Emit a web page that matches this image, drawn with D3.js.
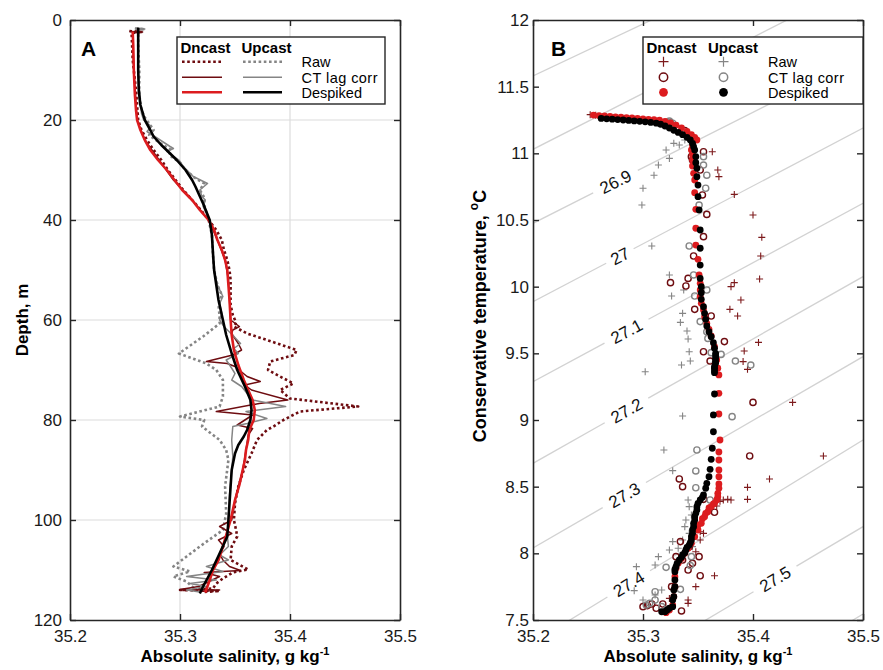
<!DOCTYPE html>
<html>
<head>
<meta charset="utf-8">
<script src="https://cdn.jsdelivr.net/npm/d3@7"></script>
<style>
  body { margin: 0; background: #fff; }
  svg { display: block; font-family: "Liberation Sans", Arial, Helvetica, sans-serif; }
</style>
</head>
<body>
<svg id="chart" width="883" height="670"></svg>
<script>
// ---------- Tick values ----------
const depthTicks = [0, 20, 40, 60, 80, 100, 120];
const salTicks = [35.2, 35.3, 35.4, 35.5];
const tempTicks = [7.5, 8, 8.5, 9, 9.5, 10, 10.5, 11, 11.5, 12];

// ---------- Panel A: salinity profiles, [depth m, SA g/kg] ----------
const dnRawA = [[2.2,35.254],[2.4,35.266],[2.6,35.256],[8,35.257],[14,35.260],[20,35.262],[22,35.265],[24,35.270],[26,35.276],[28,35.283],[30,35.289],[32,35.296],[34,35.303],[36,35.311],[38,35.319],[40,35.326],[42,35.333],[44,35.338],[46,35.340],[48,35.343],[50,35.345],[52,35.346],[55,35.346],[57,35.346],[59,35.348],[60.5,35.351],[61.3,35.349],[62,35.355],[62.7,35.361],[64,35.379],[66,35.406],[67,35.404],[68.3,35.382],[70,35.380],[71.3,35.391],[72.7,35.403],[74,35.391],[75.7,35.400],[77.3,35.462],[78.3,35.409],[80,35.394],[81.3,35.385],[82,35.379],[84,35.370],[86.7,35.365],[90,35.358],[93.3,35.353],[96.7,35.350],[100,35.349],[102,35.351],[103.3,35.352],[105.3,35.347],[108,35.346],[109.9,35.362],[110.5,35.348],[111.7,35.339],[112.7,35.333],[113.7,35.330],[114,35.300],[114.2,35.336],[114.4,35.321]];

const upRawA = [[1.7,35.259],[1.8,35.268],[2,35.262],[5,35.262],[10,35.263],[15,35.263],[18,35.265],[19.5,35.268],[20.7,35.272],[22,35.276],[23,35.272],[24.5,35.281],[26,35.292],[27,35.290],[28.5,35.300],[30,35.305],[31.5,35.313],[32.7,35.322],[34,35.318],[35.5,35.322],[37,35.322],[40,35.326],[43,35.329],[47,35.330],[50,35.331],[53,35.334],[55,35.338],[57,35.335],[59.3,35.336],[60.7,35.336],[63.3,35.321],[66.7,35.299],[68.7,35.324],[70,35.333],[72,35.339],[75.3,35.339],[77.3,35.336],[79.3,35.300],[80,35.322],[81.3,35.320],[84,35.336],[86,35.342],[88,35.344],[93.3,35.341],[98.7,35.342],[102,35.339],[105.3,35.318],[107.3,35.306],[109.3,35.294],[110.3,35.309],[111.3,35.294],[112.3,35.306],[113.3,35.311],[114,35.314]];

const dnLagA = [[2.3,35.254],[2.4,35.266],[2.6,35.257],[10,35.258],[20,35.261],[24,35.268],[28,35.281],[32,35.294],[36,35.311],[40,35.326],[44,35.334],[48,35.341],[52,35.344],[56,35.345],[60,35.346],[61.3,35.354],[62,35.348],[62.7,35.347],[64.7,35.353],[66,35.356],[67,35.348],[68.3,35.324],[68.7,35.343],[69.3,35.350],[71.3,35.361],[72.3,35.373],[73,35.359],[74,35.365],[76,35.398],[76.7,35.372],[78.3,35.333],[79,35.366],[81,35.352],[81.7,35.366],[83,35.362],[86,35.360],[90,35.357],[95,35.351],[100,35.347],[101.3,35.336],[102.7,35.347],[104,35.335],[105.3,35.340],[106.7,35.336],[108,35.339],[109.3,35.345],[110.1,35.355],[110.5,35.322],[111.3,35.336],[113.3,35.317],[113.9,35.300],[114,35.336],[114.3,35.318]];

const upLagA = [[1.7,35.259],[1.8,35.268],[2,35.262],[10,35.262],[17,35.264],[18.7,35.265],[20,35.267],[21.3,35.274],[22.3,35.270],[23.3,35.277],[25.3,35.291],[25.7,35.294],[26.3,35.288],[28,35.299],[29.3,35.303],[31.3,35.312],[32.7,35.325],[34,35.318],[35.3,35.320],[36,35.323],[37.3,35.321],[40,35.327],[43,35.329],[47,35.330],[50,35.331],[53,35.334],[55.3,35.339],[56.7,35.336],[58.7,35.338],[60,35.336],[61.3,35.340],[63.3,35.349],[64.7,35.355],[65.7,35.349],[66.7,35.353],[68,35.342],[69.3,35.346],[70.7,35.350],[72,35.347],[73.3,35.356],[74.7,35.361],[76,35.366],[77.3,35.396],[78.3,35.360],[79.7,35.379],[80.7,35.361],[81.3,35.348],[84,35.347],[87.3,35.348],[90,35.347],[95,35.345],[100,35.344],[103,35.343],[105.3,35.344],[107,35.336],[108,35.344],[109.3,35.324],[110.3,35.339],[111.3,35.306],[112,35.333],[112.7,35.309],[113.3,35.324],[114,35.306],[114.4,35.318]];

const dnDesA = [[2.3,35.257],[5,35.2575],[10,35.258],[15,35.259],[18,35.260],[20,35.261],[22,35.264],[24,35.268],[26,35.273],[28,35.280],[30,35.288],[32,35.295],[34,35.302],[36,35.311],[38,35.318],[40,35.326],[42,35.331],[44,35.334],[46,35.338],[48,35.341],[50,35.343],[53,35.344],[56,35.345],[60,35.346],[63,35.347],[66,35.349],[69,35.353],[72,35.358],[74,35.362],[76,35.366],[78,35.368],[80,35.367],[82,35.363],[84,35.362],[86,35.360],[88,35.359],[90,35.357],[93,35.354],[96,35.350],[100,35.346],[103,35.342],[106,35.338],[108,35.335],[110,35.330],[112,35.327],[114.5,35.323]];

const upDesA = [[1.5,35.262],[5,35.262],[10,35.262],[14,35.2625],[17,35.264],[20,35.268],[22,35.273],[23.3,35.276],[25,35.283],[26.7,35.291],[28,35.297],[30,35.305],[32,35.311],[33.3,35.314],[36.7,35.321],[40,35.327],[43,35.329],[46.7,35.330],[50,35.331],[53,35.333],[56,35.335],[60,35.339],[63,35.342],[66.7,35.347],[70,35.352],[73.3,35.359],[76,35.364],[78,35.365],[80,35.364],[82,35.361],[83.3,35.358],[85,35.353],[86.7,35.350],[90,35.347],[93.3,35.346],[96.7,35.345],[100,35.344],[103.3,35.343],[106.7,35.336],[110,35.329],[113.3,35.321],[114.7,35.318]];

// ---------- Panel B: T-S points, [SA g/kg, CT degC] ----------
const dnRawB = [[35.252,11.29],[35.257,11.285],[35.363,11.012],[35.368,10.875],[35.369,10.825],[35.383,10.692],[35.4,10.538],[35.408,10.37],[35.407,10.23],[35.406,10.058],[35.383,10.03],[35.38,10.0],[35.389,9.9],[35.379,9.83],[35.386,9.78],[35.405,9.582],[35.392,9.518],[35.391,9.438],[35.395,9.38],[35.436,9.132],[35.464,8.73],[35.415,8.558],[35.395,8.495],[35.395,8.405],[35.373,8.4],[35.377,8.405],[35.38,8.4],[35.37,8.39],[35.367,8.355],[35.352,8.162],[35.355,8.15],[35.352,8.1],[35.348,8.012],[35.365,7.832],[35.348,7.75],[35.341,7.65],[35.341,7.625],[35.324,7.662]];

const upRawB = [[35.338,11.1],[35.333,11.062],[35.328,11.075],[35.321,11.025],[35.324,10.962],[35.314,10.912],[35.31,10.836],[35.3,10.738],[35.299,10.612],[35.308,10.305],[35.324,10.088],[35.326,9.93],[35.337,9.975],[35.336,9.8],[35.334,9.732],[35.34,9.668],[35.341,9.608],[35.342,9.512],[35.343,9.442],[35.335,9.412],[35.302,9.362],[35.336,9.03],[35.319,8.775],[35.327,8.62],[35.341,8.4],[35.342,8.35],[35.344,8.288],[35.339,8.25],[35.338,8.2],[35.342,8.15],[35.336,8.1],[35.327,8.088],[35.332,8.038],[35.324,8.025],[35.345,8.05],[35.314,7.975],[35.311,7.912],[35.294,7.9],[35.292,7.72],[35.317,7.725],[35.3,7.65],[35.311,7.688]];

const dnLagB = [[35.338,11.17],[35.346,11.11],[35.355,11.012],[35.344,10.975],[35.345,10.95],[35.352,10.875],[35.354,10.688],[35.358,10.542],[35.355,10.375],[35.346,10.23],[35.341,10.062],[35.325,10.03],[35.339,10.005],[35.347,9.83],[35.362,9.78],[35.374,9.588],[35.355,9.512],[35.361,9.442],[35.4,9.132],[35.397,8.73],[35.333,8.558],[35.336,8.5],[35.355,8.405],[35.365,8.308],[35.334,8.088],[35.342,8.05],[35.351,7.975],[35.336,7.95],[35.33,7.975],[35.345,7.925],[35.341,7.875],[35.352,7.832],[35.326,7.75],[35.335,7.568],[35.3,7.6],[35.304,7.608],[35.308,7.62],[35.318,7.62],[35.312,7.588]];

const upLagB = [[35.322,11.235],[35.325,11.232],[35.324,11.242],[35.327,11.226],[35.355,10.975],[35.355,10.912],[35.358,10.836],[35.357,10.738],[35.351,10.612],[35.342,10.305],[35.346,10.088],[35.358,9.975],[35.347,9.93],[35.352,9.738],[35.358,9.662],[35.359,9.612],[35.362,9.505],[35.371,9.492],[35.384,9.442],[35.398,9.412],[35.381,9.025],[35.349,8.775],[35.348,8.618],[35.348,8.492],[35.361,8.4],[35.344,7.975],[35.321,7.895],[35.343,7.908],[35.334,7.73],[35.311,7.712],[35.311,7.65],[35.303,7.612],[35.317,7.6],[35.321,7.575],[35.306,7.625]];

const dnDesB = [[35.255,11.287],[35.26,11.283],[35.265,11.28],[35.27,11.277],[35.275,11.274],[35.28,11.271],[35.285,11.268],[35.29,11.265],[35.295,11.262],[35.3,11.258],[35.305,11.255],[35.31,11.252],[35.315,11.248],[35.32,11.24],[35.325,11.228],[35.33,11.212],[35.335,11.19],[35.34,11.165],[35.344,11.14],[35.347,11.12],[35.349,11.1],[35.345,11.06],[35.344,11.025],[35.345,10.99],[35.345,10.95],[35.345,10.905],[35.346,10.85],[35.347,10.8],[35.347,10.705],[35.348,10.58],[35.348,10.438],[35.348,10.312],[35.35,10.205],[35.351,10.088],[35.352,10.025],[35.352,9.975],[35.352,9.925],[35.353,9.875],[35.355,9.825],[35.356,9.775],[35.358,9.725],[35.36,9.68],[35.362,9.63],[35.365,9.55],[35.367,9.45],[35.368,9.388],[35.369,9.338],[35.369,9.2],[35.369,9.045],[35.37,8.85],[35.369,8.76],[35.369,8.7],[35.369,8.625],[35.369,8.575],[35.369,8.52],[35.369,8.488],[35.368,8.45],[35.368,8.425],[35.367,8.4],[35.365,8.375],[35.364,8.37],[35.362,8.35],[35.36,8.34],[35.359,8.312],[35.357,8.3],[35.356,8.275],[35.354,8.26],[35.353,8.225],[35.35,8.21],[35.35,8.175],[35.347,8.125],[35.344,8.075],[35.341,8.038],[35.338,8.0],[35.335,7.962],[35.332,7.925],[35.33,7.888],[35.329,7.825],[35.329,7.75],[35.328,7.675],[35.327,7.612],[35.324,7.575],[35.321,7.555]];

const upDesB = [[35.262,11.262],[35.267,11.259],[35.272,11.256],[35.277,11.253],[35.282,11.25],[35.287,11.247],[35.292,11.243],[35.297,11.24],[35.302,11.236],[35.307,11.232],[35.312,11.226],[35.316,11.218],[35.32,11.205],[35.324,11.19],[35.328,11.173],[35.332,11.157],[35.336,11.14],[35.34,11.12],[35.343,11.1],[35.345,11.075],[35.346,11.05],[35.347,11.025],[35.348,10.975],[35.348,10.93],[35.349,10.888],[35.349,10.825],[35.35,10.762],[35.35,10.675],[35.351,10.575],[35.352,10.425],[35.352,10.288],[35.352,10.162],[35.352,10.062],[35.353,10.0],[35.353,9.955],[35.353,9.905],[35.355,9.85],[35.356,9.8],[35.357,9.755],[35.358,9.705],[35.36,9.662],[35.362,9.625],[35.364,9.58],[35.365,9.538],[35.366,9.5],[35.366,9.48],[35.366,9.462],[35.366,9.44],[35.366,9.425],[35.365,9.4],[35.365,9.388],[35.365,9.37],[35.365,9.355],[35.365,9.195],[35.364,9.038],[35.364,8.912],[35.363,8.788],[35.362,8.705],[35.361,8.63],[35.36,8.575],[35.358,8.525],[35.357,8.488],[35.355,8.438],[35.354,8.42],[35.352,8.4],[35.35,8.375],[35.349,8.35],[35.349,8.325],[35.348,8.3],[35.347,8.275],[35.347,8.25],[35.346,8.225],[35.346,8.2],[35.345,8.175],[35.345,8.15],[35.344,8.125],[35.344,8.1],[35.343,8.08],[35.342,8.062],[35.34,8.045],[35.339,8.025],[35.338,8.005],[35.336,7.988],[35.335,7.97],[35.333,7.95],[35.331,7.925],[35.33,7.9],[35.329,7.88],[35.329,7.862],[35.329,7.8],[35.329,7.75],[35.328,7.725],[35.328,7.675],[35.327,7.65],[35.327,7.6],[35.324,7.588],[35.322,7.575],[35.32,7.562],[35.317,7.562]];

// ---------- Isopycnals (sigma0): CT where each line meets SA = 35.2 and SA = 35.5 ----------
const isoLevels = ["26.7", "26.8", "26.9", "27", "27.1", "27.2", "27.3", "27.4", "27.5", "27.6"];
const isoCTatLeft = [11.58, 11.03, 10.475, 9.887, 9.287, 8.675, 8.04, 7.33, 6.73, 6.04];
const isoCTatRight = [12.75, 12.29, 11.725, 11.19, 10.625, 10.075, 9.475, 8.85, 8.20, 7.545];
const isoLabelSA = [null, null, 35.275, 35.279, 35.285, 35.285, 35.283, 35.287, 35.42, null];

// ---------- Styles ----------
const C = {
  axis: "#262626", grid: "#dcdcdc", iso: "#d2d2d2",
  dnDark: "#6e0c10", dnRed: "#dc1c1f", upGray: "#858585", upBlack: "#000000"
};

const svg = d3.select("#chart");

const xA = d3.scaleLinear().domain([35.2, 35.5]).range([70, 400]);
const yA = d3.scaleLinear().domain([0, 120]).range([20, 620]);
const xB = d3.scaleLinear().domain([35.2, 35.5]).range([533, 863]);
const yB = d3.scaleLinear().domain([7.5, 12]).range([620, 20]);

function styleAxis(g) {
  g.selectAll("path.domain").attr("stroke", C.axis).attr("stroke-width", 1.6);
  g.selectAll(".tick line").attr("stroke", C.axis).attr("stroke-width", 1.4);
  g.selectAll(".tick text").attr("fill", "#1a1a1a").attr("font-size", 17)
    .attr("font-family", '"Liberation Sans", Arial, sans-serif');
}

function drawFrame(x, y, xTicks, yTicks, yPad) {
  const [xl, xr] = x.range();
  const yt = Math.min(...y.range()), yb = Math.max(...y.range());
  const g = svg.append("g");
  g.append("g").attr("transform", `translate(0,${yb})`)
    .call(d3.axisBottom(x).tickValues(xTicks).tickSize(-6).tickSizeOuter(0).tickPadding(10).tickFormat(d => String(d)))
    .call(styleAxis);
  g.append("g").attr("transform", `translate(0,${yt})`)
    .call(d3.axisTop(x).tickValues(xTicks).tickSize(-6).tickSizeOuter(0).tickFormat(""))
    .call(styleAxis);
  g.append("g").attr("transform", `translate(${xl},0)`)
    .call(d3.axisLeft(y).tickValues(yTicks).tickSize(-6).tickSizeOuter(0).tickPadding(yPad).tickFormat(d => String(d)))
    .call(styleAxis);
  g.append("g").attr("transform", `translate(${xr},0)`)
    .call(d3.axisRight(y).tickValues(yTicks).tickSize(-6).tickSizeOuter(0).tickFormat(""))
    .call(styleAxis);
  return g;
}

// ================= Panel A =================
const gridA = svg.append("g");
gridA.selectAll("line.v").data(salTicks.slice(1, -1)).join("line")
  .attr("x1", d => xA(d)).attr("x2", d => xA(d)).attr("y1", 20).attr("y2", 620)
  .attr("stroke", C.grid).attr("stroke-width", 1.2);
gridA.selectAll("line.h").data(depthTicks.slice(1, -1)).join("line")
  .attr("x1", 70).attr("x2", 400).attr("y1", d => yA(d)).attr("y2", d => yA(d))
  .attr("stroke", C.grid).attr("stroke-width", 1.2);

const profile = d3.line().x(d => xA(d[1])).y(d => yA(d[0]));
const seriesA = [
  { data: dnRawA, color: C.dnDark, width: 2.6, dash: "2.6,2.6" },
  { data: upRawA, color: C.upGray, width: 2.6, dash: "2.6,2.6" },
  { data: dnLagA, color: C.dnDark, width: 1.5, dash: null },
  { data: upLagA, color: C.upGray, width: 1.5, dash: null },
  { data: dnDesA, color: C.dnRed, width: 2.6, dash: null },
  { data: upDesA, color: C.upBlack, width: 2.6, dash: null }
];
const linesA = svg.append("g");
seriesA.forEach(s => {
  linesA.append("path").datum(s.data).attr("d", profile)
    .attr("fill", "none").attr("stroke", s.color).attr("stroke-width", s.width)
    .attr("stroke-linejoin", "round")
    .attr("stroke-dasharray", s.dash);
});

drawFrame(xA, yA, salTicks, depthTicks, 8);

svg.append("text").attr("x", 81).attr("y", 56).attr("font-size", 21).attr("font-weight", "bold").text("A");

// Legend rows shared by both panels
const legRowsY = [61.7, 77.3, 92.3];
const legNames = ["Raw", "CT lag corr", "Despiked"];
const legFont = 14.5;

// Legend A
const legA = svg.append("g");
legA.append("rect").attr("x", 177).attr("y", 37).attr("width", 208).attr("height", 67)
  .attr("fill", "#fff").attr("stroke", C.axis).attr("stroke-width", 1.4);
legA.append("text").attr("x", 180.5).attr("y", 52.5).attr("font-size", 15).attr("font-weight", "bold").text("Dncast");
legA.append("text").attr("x", 241.5).attr("y", 52.5).attr("font-size", 15).attr("font-weight", "bold").text("Upcast");
legNames.forEach((n, i) => {
  const ds = seriesA[2 * i], us = seriesA[2 * i + 1];
  legA.append("line").attr("x1", 182).attr("x2", 222).attr("y1", legRowsY[i]).attr("y2", legRowsY[i])
    .attr("stroke", ds.color).attr("stroke-width", ds.width).attr("stroke-dasharray", ds.dash);
  legA.append("line").attr("x1", 243).attr("x2", 282).attr("y1", legRowsY[i]).attr("y2", legRowsY[i])
    .attr("stroke", us.color).attr("stroke-width", us.width).attr("stroke-dasharray", us.dash);
  legA.append("text").attr("x", 301.5).attr("y", legRowsY[i] + 5.4).attr("font-size", legFont)
    .attr("textLength", n === "CT lag corr" ? 76 : null).text(n);
});

// Axis titles A
const xtA = svg.append("text").attr("x", 235).attr("y", 662).attr("text-anchor", "middle")
  .attr("font-size", 17).attr("font-weight", "bold");
xtA.append("tspan").text("Absolute salinity, g kg");
xtA.append("tspan").attr("dy", -7).attr("font-size", 11).text("-1");

svg.append("text").attr("transform", "translate(28,320) rotate(-90)").attr("text-anchor", "middle")
  .attr("font-size", 17).attr("font-weight", "bold").text("Depth, m");

// ================= Panel B =================
svg.append("clipPath").attr("id", "clipB").append("rect")
  .attr("x", 533).attr("y", 20).attr("width", 330).attr("height", 600);

const isoG = svg.append("g").attr("clip-path", "url(#clipB)");
isoLevels.forEach((lev, i) => {
  const p0 = [xB(35.2), yB(isoCTatLeft[i])];
  const p1 = [xB(35.5), yB(isoCTatRight[i])];
  const dx = p1[0] - p0[0], dy = p1[1] - p0[1];
  const L = Math.hypot(dx, dy);
  const at = t => [p0[0] + t * dx, p0[1] + t * dy];
  const segs = [];
  if (isoLabelSA[i] !== null) {
    const tc = (isoLabelSA[i] - 35.2) / 0.3;
    const half = (lev.length * 9.5 / 2 + 6) / L;
    segs.push([0, tc - half], [tc + half, 1]);
    const pc = at(tc);
    const ang = Math.atan2(dy, dx) * 180 / Math.PI;
    svg.append("text").attr("transform", `translate(${pc[0]},${pc[1]}) rotate(${ang})`)
      .attr("text-anchor", "middle").attr("dy", "0.36em").attr("font-size", 17)
      .attr("fill", "#111").text(lev);
  } else {
    segs.push([0, 1]);
  }
  segs.forEach(([a, b]) => {
    const q0 = at(a), q1 = at(b);
    isoG.append("line").attr("x1", q0[0]).attr("y1", q0[1]).attr("x2", q1[0]).attr("y2", q1[1])
      .attr("stroke", C.iso).attr("stroke-width", 1.3);
  });
});

const crossPath = "M-3.5,0H3.5M0,-3.5V3.5";
const dotsB = svg.append("g");
function crosses(data, color) {
  dotsB.append("g").selectAll("path").data(data).join("path")
    .attr("d", crossPath).attr("transform", d => `translate(${xB(d[0])},${yB(d[1])})`)
    .attr("stroke", color).attr("stroke-width", 1.1).attr("fill", "none");
}
function rings(data, color) {
  dotsB.append("g").selectAll("circle").data(data).join("circle")
    .attr("cx", d => xB(d[0])).attr("cy", d => yB(d[1])).attr("r", 3.1)
    .attr("fill", "none").attr("stroke", color).attr("stroke-width", 1.4);
}
function discs(data, color) {
  dotsB.append("g").selectAll("circle").data(data).join("circle")
    .attr("cx", d => xB(d[0])).attr("cy", d => yB(d[1])).attr("r", 3.4)
    .attr("fill", color);
}
crosses(dnRawB, "#7d1a1c");
crosses(upRawB, C.upGray);
rings(dnLagB, C.dnDark);
rings(upLagB, C.upGray);
discs(dnDesB, C.dnRed);
discs(upDesB, C.upBlack);

drawFrame(xB, yB, salTicks, tempTicks, 4);

svg.append("text").attr("x", 551).attr("y", 56).attr("font-size", 21).attr("font-weight", "bold").text("B");

// Legend B
const legB = svg.append("g");
legB.append("rect").attr("x", 643).attr("y", 37).attr("width", 220).attr("height", 67)
  .attr("fill", "#fff").attr("stroke", C.axis).attr("stroke-width", 1.4);
legB.append("text").attr("x", 646.5).attr("y", 52.5).attr("font-size", 15).attr("font-weight", "bold").text("Dncast");
legB.append("text").attr("x", 708).attr("y", 52.5).attr("font-size", 15).attr("font-weight", "bold").text("Upcast");
legB.append("path").attr("d", "M-5,0H5M0,-5V5").attr("transform", `translate(663.5,${legRowsY[0]})`)
  .attr("stroke", "#7d1a1c").attr("stroke-width", 1.2);
legB.append("path").attr("d", "M-5,0H5M0,-5V5").attr("transform", `translate(723.5,${legRowsY[0]})`)
  .attr("stroke", C.upGray).attr("stroke-width", 1.2);
legB.append("circle").attr("cx", 663.5).attr("cy", legRowsY[1]).attr("r", 4.2)
  .attr("fill", "none").attr("stroke", C.dnDark).attr("stroke-width", 1.5);
legB.append("circle").attr("cx", 723.5).attr("cy", legRowsY[1]).attr("r", 4.2)
  .attr("fill", "none").attr("stroke", C.upGray).attr("stroke-width", 1.5);
legB.append("circle").attr("cx", 663.5).attr("cy", legRowsY[2]).attr("r", 4.4).attr("fill", C.dnRed);
legB.append("circle").attr("cx", 723.5).attr("cy", legRowsY[2]).attr("r", 4.4).attr("fill", C.upBlack);
legNames.forEach((n, i) => {
  legB.append("text").attr("x", 768).attr("y", legRowsY[i] + 5.4).attr("font-size", legFont)
    .attr("textLength", n === "CT lag corr" ? 76 : null).text(n);
});

// Axis titles B
const xtB = svg.append("text").attr("x", 698).attr("y", 662).attr("text-anchor", "middle")
  .attr("font-size", 17).attr("font-weight", "bold");
xtB.append("tspan").text("Absolute salinity, g kg");
xtB.append("tspan").attr("dy", -7).attr("font-size", 11).text("-1");

const ytB = svg.append("text").attr("transform", "translate(486,316) rotate(-90)").attr("text-anchor", "middle")
  .attr("font-size", 18).attr("font-weight", "bold");
ytB.append("tspan").text("Conservative temperature, ");
ytB.append("tspan").attr("dy", -8).attr("font-size", 12).text("o");
ytB.append("tspan").attr("dy", 8).text("C");
</script>
</body>
</html>
